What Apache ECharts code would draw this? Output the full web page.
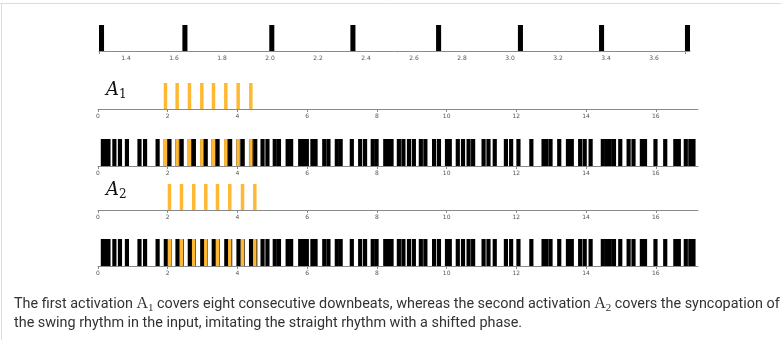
<!DOCTYPE html>
<html>
<head>
<meta charset="utf-8">
<script src="https://cdn.jsdelivr.net/npm/echarts@6/dist/echarts.min.js"></script>
<style>
  html, body { margin: 0; padding: 0; background: #fff; }
  #chart { width: 781px; height: 340px; }
</style>
</head>
<body>
<div id="chart"></div>
<script>
// onsets of the zoomed input window (top strip)
const topOnsets = [1.2875, 1.635, 1.997, 2.335, 2.692, 3.033, 3.371, 3.729];
const topTicks = [1.4, 1.6, 1.8, 2.0, 2.2, 2.4, 2.6, 2.8, 3.0, 3.2, 3.4, 3.6];

// activations
const a1Onsets = [1.885, 2.22, 2.574, 2.928, 3.263, 3.616, 3.97, 4.334];
const a2Onsets = [2.0, 2.344, 2.697, 3.042, 3.377, 3.73, 4.095, 4.448];

// input rhythm onsets
const inputOnsets = [
  0.08, 0.16, 0.24, 0.41, 0.57, 0.77, 1.13, 1.29, 1.65,
  1.885, 1.99, 2.22, 2.34, 2.574, 2.69, 2.93, 3.03, 3.26, 3.37,
  3.62, 3.73, 3.97, 4.09, 4.33, 4.45,
  4.66, 4.8, 5.01, 5.13, 5.38, 5.48, 5.74, 5.84, 5.93, 6.09, 6.18,
  6.43, 6.55, 6.79, 6.9, 7.22, 7.46, 7.6, 7.82, 7.93, 8.18, 8.27, 8.36,
  8.57, 8.7, 8.86, 9.0, 9.2, 9.33, 9.58, 9.72, 9.95, 10.03, 10.26,
  10.41, 10.57, 10.7, 11.0, 11.14, 11.32, 11.64, 11.79, 12.0, 12.37,
  12.72, 12.8, 12.92, 13.17, 13.42, 13.53, 13.77, 13.9, 14.07,
  14.42, 14.53, 14.62, 14.74, 14.92, 15.16, 15.3, 15.54, 15.63,
  15.93, 16.21, 16.5, 16.6, 16.8, 16.93, 17.02
];
const mainTicks = [0, 2, 4, 6, 8, 10, 12, 14, 16];

const ORANGE = '#ffb833';
const BLACK = '#000000';

function barRenderer(width, color) {
  return (params, api) => {
    const x0 = api.value(0);
    const p0 = api.coord([x0, 0]);
    const p1 = api.coord([x0 + width, 1]);
    return {
      type: 'rect',
      shape: { x: p0[0], y: p1[1], width: p1[0] - p0[0], height: p0[1] - p1[1] },
      style: { fill: color }
    };
  };
}

function bars(data, axis, width, color) {
  return {
    type: 'custom',
    xAxisIndex: axis,
    yAxisIndex: axis,
    clip: false,
    silent: true,
    data: data.map((v) => [v]),
    renderItem: barRenderer(width, color)
  };
}

function xAxisFor(gridIndex, min, max, ticks, tickMarks) {
  return {
    type: 'value',
    gridIndex,
    min,
    max,
    splitLine: { show: false },
    axisLine: { lineStyle: { color: '#8a8a8a', width: 1 } },
    axisTick: { length: 3, lineStyle: { color: '#8a8a8a' }, customValues: tickMarks },
    axisLabel: {
      customValues: ticks,
      fontSize: 6,
      color: '#555',
      margin: 4,
      fontFamily: 'DejaVu Sans',
      formatter: (v) => (min > 1 ? v.toFixed(1) : String(v))
    }
  };
}

const grids = [
  { left: 99, top: 25, width: 591, height: 26 },
  { left: 98, top: 83, width: 600, height: 26 },
  { left: 98, top: 139, width: 600, height: 27 },
  { left: 98, top: 184, width: 600, height: 26 },
  { left: 98, top: 239, width: 600, height: 27 }
];

const xAxes = [
  xAxisFor(0, 1.2875, 3.75, topTicks, [1.2875, 3.729]),
  xAxisFor(1, 0, 17.21, mainTicks, mainTicks),
  xAxisFor(2, 0, 17.21, mainTicks, mainTicks),
  xAxisFor(3, 0, 17.21, mainTicks, mainTicks),
  xAxisFor(4, 0, 17.21, mainTicks, mainTicks)
];

const yAxes = grids.map((g, i) => ({
  type: 'value', gridIndex: i, min: 0, max: 1, show: false
}));

const mathLabel = (sub, top) => ({
  type: 'text',
  left: 106,
  top: top,
  style: {
    text: '{a|A}{s|' + sub + '}',
    rich: {
      a: { fontFamily: 'DejaVu Serif', fontStyle: 'italic', fontSize: 18, lineHeight: 22, fill: '#111' },
      s: { fontFamily: 'DejaVu Serif', fontSize: 12, lineHeight: 12, verticalAlign: 'bottom', fill: '#111' }
    }
  }
});

const capRich = {
  t: { fontFamily: 'Roboto', fontSize: 14.4, lineHeight: 20, fill: '#333' },
  m: { fontFamily: 'Liberation Serif', fontSize: 16, lineHeight: 20, fill: '#333' },
  s: { fontFamily: 'Liberation Serif', fontSize: 11, lineHeight: 12, verticalAlign: 'bottom', fill: '#333' }
};

const chart = echarts.init(document.getElementById('chart'), null, { renderer: 'canvas' });
chart.setOption({
  animation: false,
  backgroundColor: '#fff',
  grid: grids,
  xAxis: xAxes,
  yAxis: yAxes,
  series: [
    bars(topOnsets, 0, 0.021, BLACK),
    bars(a1Onsets, 1, 0.1, ORANGE),
    bars(inputOnsets, 2, 0.12, BLACK),
    bars(a1Onsets, 2, 0.1, ORANGE),
    bars(a2Onsets, 3, 0.1, ORANGE),
    bars(inputOnsets, 4, 0.12, BLACK),
    bars(a2Onsets, 4, 0.1, ORANGE)
  ],
  graphic: [
    { type: 'line', shape: { x1: 0, y1: 3.5, x2: 781, y2: 3.5 }, style: { stroke: '#dcdcdc', lineWidth: 1 } },
    { type: 'line', shape: { x1: 1.5, y1: 3, x2: 1.5, y2: 340 }, style: { stroke: '#dcdcdc', lineWidth: 1 } },
    mathLabel('1', 81),
    mathLabel('2', 181),
    {
      type: 'text', left: 14, top: 296,
      style: {
        text: '{t|The first activation }{m|A}{s|1}{t| covers eight consecutive downbeats, whereas the second activation }{m|A}{s|2}{t| covers the syncopation of}',
        rich: capRich
      }
    },
    {
      type: 'text', left: 14, top: 316,
      style: {
        text: '{t|the swing rhythm in the input, imitating the straight rhythm with a shifted phase.}',
        rich: capRich
      }
    }
  ]
});
</script>
</body>
</html>
